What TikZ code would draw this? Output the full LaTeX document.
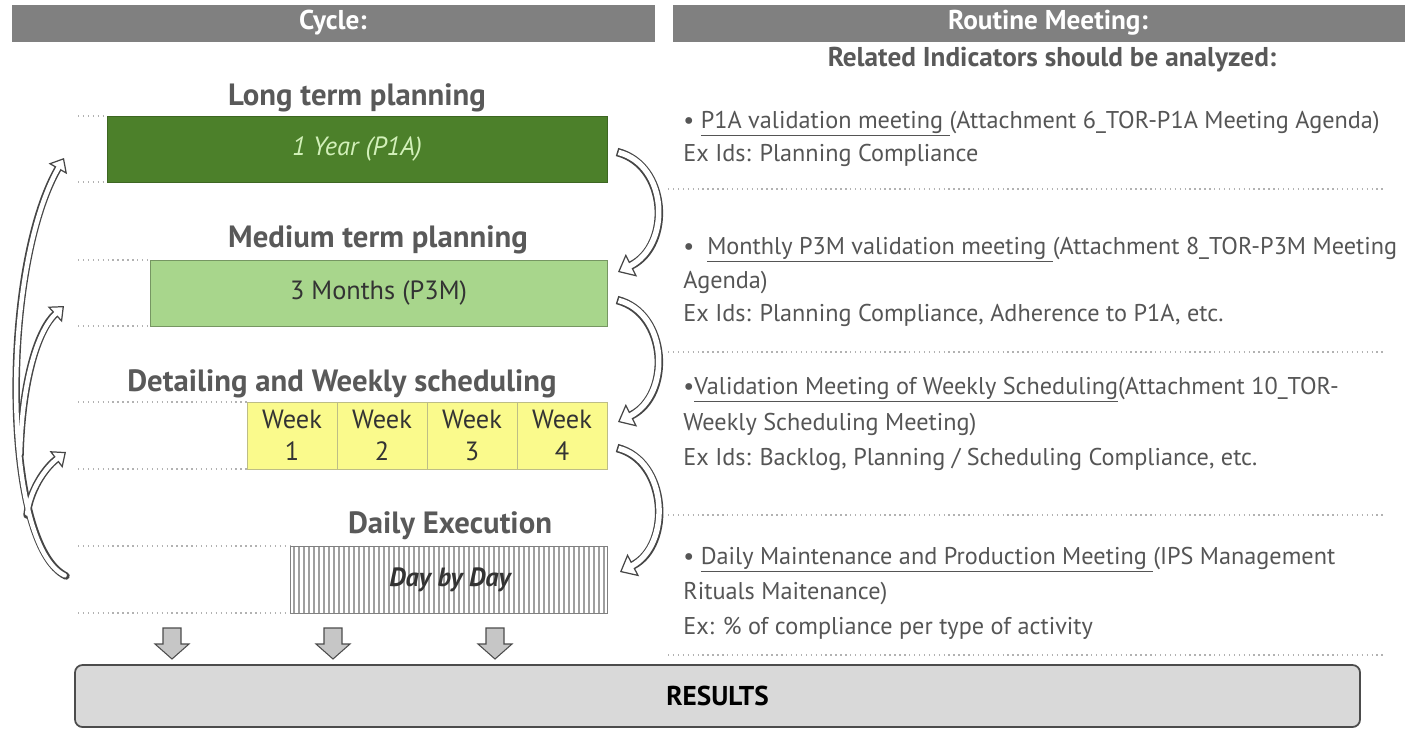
\documentclass[tikz,border=0pt]{standalone}
\usepackage{fontspec}
\setmainfont{PT Sans}
\usetikzlibrary{arrows.meta}
\definecolor{hdrgray}{RGB}{128,128,128}
\definecolor{headtxt}{RGB}{89,89,89}
\definecolor{bodytxt}{RGB}{85,85,85}
\definecolor{darkgreen}{RGB}{76,128,42}
\definecolor{palegreen}{RGB}{210,240,185}
\definecolor{lightgreen}{RGB}{168,214,140}
\definecolor{weekyellow}{RGB}{250,250,140}
\definecolor{arrgray}{RGB}{70,70,70}
\definecolor{resfill}{RGB}{217,217,217}

\begin{document}
\begin{tikzpicture}[x=0.02cm,y=-0.02cm,
    hdr/.style={text=white,font=\fontsize{15.5}{18}\selectfont\bfseries},
    stage/.style={text=headtxt,font=\fontsize{17.5}{20}\selectfont\bfseries},
    body/.style={text=bodytxt,anchor=base west,inner sep=0pt,font=\fontsize{13.8}{16}\selectfont},
    dotline/.style={gray!60,line width=0.8pt,dotted},
    bendout/.style={line width=0.17cm,draw=arrgray,
        -{Triangle[fill=white,line width=0.7pt,length=0.3cm,width=0.5cm]}},
    bendin/.style={line width=0.11cm,draw=white,shorten >=0.26cm,shorten <=0.03cm},
    backout/.style={line width=0.15cm,draw=arrgray,line cap=round,
        -{Triangle[fill=white,line width=0.7pt,length=0.25cm,width=0.42cm]}},
    backin/.style={line width=0.09cm,draw=white,line cap=round,shorten >=0.21cm,shorten <=0.03cm},
    downarr/.style={fill=gray!45,draw=gray!60!black,line width=0.6pt}]
\useasboundingbox (0,0) rectangle (1405,730);

% header bars
\fill[hdrgray] (12,5) rectangle (655,42);
\node[hdr] (cyc) at (333,23) {Cycle:};
\fill[hdrgray] (673,5) rectangle (1405,42);
\node[hdr] (rout) at (1048,23) {Routine Meeting:};
\node[text=headtxt,font=\fontsize{15.5}{18}\selectfont\bfseries] (rel) at (1052,60) {Related Indicators should be analyzed:};

% guide lines
\foreach \y/\x in {116/107,182/107,260/150,326/150,402/247,469/247,546/290,613/290}
    \draw[dotline] (78,\y) -- (\x,\y);
\foreach \y in {189,352,515,655}
    \draw[dotline] (668,\y) -- (1385,\y);

% planning levels
\node[stage] (lt) at (357,98) {Long term planning};
\draw[draw=darkgreen!80!black,fill=darkgreen] (107,116) rectangle
    node[text=palegreen,font=\fontsize{15}{18}\selectfont\itshape] (year) {1 Year (P1A)} (607,182);

\node[stage] (mt) at (378,240) {Medium term planning};
\draw[draw=lightgreen!70!black,fill=lightgreen] (150,260) rectangle
    node[text=black!80,font=\fontsize{15}{18}\selectfont] (month) {3 Months (P3M)} (607,326);

\node[stage] (ws) at (342,384) {Detailing and Weekly scheduling};
\foreach \i in {1,...,4}
    \draw[draw=weekyellow!50!gray,fill=weekyellow] ({247+90*(\i-1)},402) rectangle
        node[align=center,text=black!80,font=\fontsize{15}{18}\selectfont] (wk\i) {Week\\\i} ({247+90*\i},469);

\node[stage] (de) at (450,526) {Daily Execution};
\fill[white] (290,546) rectangle (607,613);
\foreach \x in {294,299,...,604}
    \draw[gray!75,line width=0.6pt] (\x,546) -- (\x,613);
\draw[gray] (290,546) rectangle (607,613);
\node[text=black!80,font=\fontsize{15}{18}\selectfont\bfseries\itshape] (day) at (450,580) {Day by Day};

% flow down to results
\foreach \x in {172,333,495}
    \draw[downarr] (\x-9,628) -- (\x+9,628) -- (\x+9,644) -- (\x+17,644) -- (\x,659)
        -- (\x-17,644) -- (\x-9,644) -- cycle;
\draw[fill=resfill,draw=gray!60!black,line width=1pt,rounded corners=0.15cm] (75,665) rectangle
    node[text=black,font=\fontsize{15.5}{18}\selectfont\bfseries] (res) {RESULTS} (1360,727);

% forward arrows
\coordinate (f1s) at (617,152); \coordinate (f1e) at (618,272);
\coordinate (f2s) at (617,300); \coordinate (f2e) at (618,422);
\coordinate (f3s) at (617,448); \coordinate (f3e) at (620,572);
\draw[bendout] (f1s) .. controls (668,165) and (672,245) .. (f1e);
\draw[bendout] (f2s) .. controls (668,313) and (672,395) .. (f2e);
\draw[bendout] (f3s) .. controls (668,461) and (672,545) .. (f3e);
\draw[bendin] (f1s) .. controls (668,165) and (672,245) .. (f1e);
\draw[bendin] (f2s) .. controls (668,313) and (672,395) .. (f2e);
\draw[bendin] (f3s) .. controls (668,461) and (672,545) .. (f3e);

% feedback arrows
\coordinate (tail) at (66,576);
\coordinate (b1) at (64,158); \coordinate (b2) at (64,306); \coordinate (b3) at (66,452);
\coordinate (j2) at (20,455); \coordinate (j3) at (27,515);
\draw[backout] (tail) .. controls (2,545) and (0,270) .. (b1);
\draw[backout] (j2) .. controls (22,380) and (38,330) .. (b2);
\draw[backout] (j3) .. controls (30,490) and (45,468) .. (b3);
\draw[backin] (tail) .. controls (2,545) and (0,270) .. (b1);
\draw[backin] (j2) .. controls (22,380) and (38,330) .. (b2);
\draw[backin] (j3) .. controls (30,490) and (45,468) .. (b3);

% meetings
\node[body] (m1a) at (683,128) {• \underline{P1A validation meeting }(Attachment 6\_TOR-P1A Meeting Agenda)};
\node[body] (m1b) at (683,161) {Ex Ids: Planning Compliance};
\node[body] (m2a) at (683,254) {•\ \ \underline{Monthly P3M validation meeting }(Attachment 8\_TOR-P3M Meeting};
\node[body] (m2b) at (683,288) {Agenda)};
\node[body] (m2c) at (683,321) {Ex Ids: Planning Compliance, Adherence to P1A, etc.};
\node[body] (m3a) at (683,394) {•\underline{Validation Meeting of Weekly Scheduling}(Attachment 10\_TOR-};
\node[body] (m3b) at (683,430) {Weekly Scheduling Meeting)};
\node[body] (m3c) at (683,465) {Ex Ids: Backlog, Planning / Scheduling Compliance, etc.};
\node[body] (m4a) at (683,564) {• \underline{Daily Maintenance and Production Meeting }(IPS Management};
\node[body] (m4b) at (683,599) {Rituals Maitenance)};
\node[body] (m4c) at (683,634) {Ex: \% of compliance per type of activity};
\end{tikzpicture}
\end{document}
